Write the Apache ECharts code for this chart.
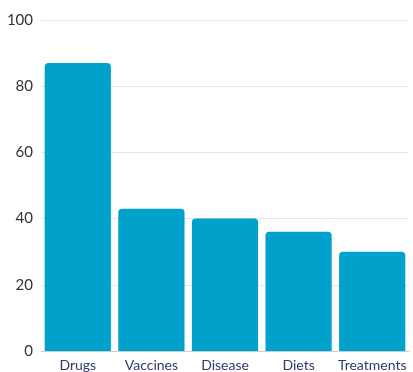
<!DOCTYPE html>
<html><head><meta charset="utf-8">
<script src="https://cdn.jsdelivr.net/npm/echarts@6/dist/echarts.min.js"></script>
<style>html,body{margin:0;padding:0;background:#fff}#c{width:413px;height:372px}</style>
</head><body><div id="c"></div>
<script>
const categories = ["Drugs", "Vaccines", "Disease", "Diets", "Treatments"];
const values = [87, 43, 40, 36, 30];
const yTicks = [0, 20, 40, 60, 80, 100];

const chart = echarts.init(document.getElementById('c'), null, {renderer: 'canvas'});
chart.setOption({
  animation: false,
  grid: {left: 41, right: 4, top: 20, bottom: 21, containLabel: false},
  xAxis: {
    type: 'category', data: categories,
    axisLine: {lineStyle: {color: '#cccccc'}},
    axisTick: {show: false},
    axisLabel: {color: '#2e3a6b', fontSize: 14, fontFamily: 'Lato', margin: 7, interval: 0}
  },
  yAxis: {
    type: 'value', min: yTicks[0], max: yTicks[yTicks.length - 1], interval: 20,
    axisLine: {show: false}, axisTick: {show: false},
    splitLine: {lineStyle: {color: '#e6e6e6'}},
    axisLabel: {color: '#333333', fontSize: 15, fontFamily: 'Lato', margin: 8}
  },
  series: [{
    type: 'bar', data: values, barCategoryGap: '10%',
    itemStyle: {color: '#00a2cb', borderRadius: [4, 4, 0, 0]}
  }]
});
</script></body></html>
